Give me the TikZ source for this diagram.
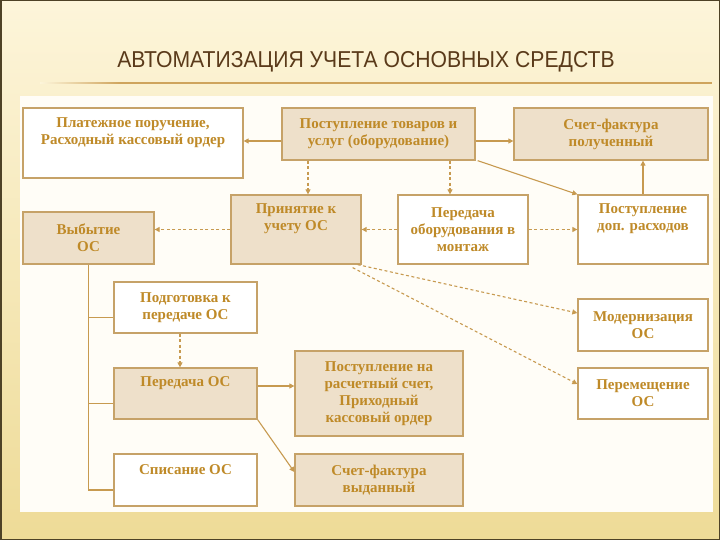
\documentclass[tikz,border=0pt]{standalone}
\usepackage{fontspec}
\setmainfont{Liberation Serif}
\newfontfamily\titlefont{Liberation Sans}
\usetikzlibrary{arrows.meta}

\definecolor{slidetop}{HTML}{FDF5DA}
\definecolor{slidebot}{HTML}{EEDB97}
\definecolor{framecol}{HTML}{4E4226}
\definecolor{rulecol}{HTML}{CFA45C}
\definecolor{titlecol}{HTML}{5A3A1A}
\definecolor{panelbg}{HTML}{FFFDF7}
\definecolor{boxline}{HTML}{C6A268}
\definecolor{boxfill}{HTML}{EEE0CA}
\definecolor{boxtext}{HTML}{BF8A28}
\definecolor{linecol}{HTML}{C79A50}

\begin{document}
\begin{tikzpicture}[x=1pt, y=-1pt,
    txt/.style={text=boxtext, font=\bfseries\fontsize{15}{17}\selectfont, align=center},
    box/.style={txt, draw=boxline, line width=1.3pt, inner sep=0pt},
    wbox/.style={box, fill=white},
    tbox/.style={box, fill=boxfill},
    sline/.style={draw=linecol, line width=1.1pt},
    arr/.style={sline, -{Triangle[length=5pt, width=5pt]}},
    darr/.style={arr, dash pattern=on 3pt off 2.5pt},
    title/.style={text=titlecol, font=\titlefont\fontsize{23}{23}\selectfont}]

  \useasboundingbox (0,0) rectangle (720,540);

  % slide
  \shade[top color=slidetop, bottom color=slidebot] (0,0) rectangle (720,540);
  \draw[framecol, line width=1.5pt] (0.75,0.75) rectangle (719.25,539.25);
  \node[title] (title) at (366,62) {\scalebox{0.92}[1]{АВТОМАТИЗАЦИЯ УЧЕТА ОСНОВНЫХ СРЕДСТВ}};
  \shade[left color=slidetop, right color=rulecol] (40,82.5) rectangle (120,84);
  \fill[rulecol] (120,82.5) rectangle (712,84);
  \fill[panelbg] (20,96) rectangle (713,512);

  % top row
  \node[wbox, minimum width=220pt, minimum height=70pt] (plat) at (133,143) {};
  \node[txt] (plat-t) at ([yshift=-25pt]plat.north) {Платежное поручение,\\Расходный кассовый ордер};
  \node[tbox, minimum width=193pt, minimum height=52pt] (tovar) at (378.5,134) {Поступление товаров и\\услуг (оборудование)};
  \node[tbox, minimum width=194pt, minimum height=52pt] (sfpol) at (611,134) {Счет-фактура\\полученный};

  % second row
  \node[tbox, minimum width=131pt, minimum height=52pt] (vyb) at (88.5,238) {Выбытие\\ОС};
  \node[tbox, minimum width=130pt, minimum height=69pt] (prin) at (296,229.5) {};
  \node[txt] (prin-t) at ([yshift=-24.5pt]prin.north) {Принятие к\\учету ОС};
  \node[wbox, minimum width=130pt, minimum height=69pt] (monta) at (463,229.5) {Передача\\оборудования в\\монтаж};
  \node[wbox, minimum width=130pt, minimum height=69pt] (dop) at (643,229.5) {};
  \node[txt] (dop-t) at ([yshift=-24.5pt]dop.north) {Поступление\\доп. расходов};

  % left column
  \node[wbox, minimum width=143pt, minimum height=51pt] (podg) at (185.5,307.5) {Подготовка к\\передаче ОС};
  \node[tbox, minimum width=143pt, minimum height=51pt] (pered) at (185.5,393.5) {};
  \node[txt] (pered-t) at ([yshift=-16pt]pered.north) {Передача ОС};
  \node[wbox, minimum width=143pt, minimum height=52pt] (spis) at (185.5,480) {};
  \node[txt] (spis-t) at ([yshift=-16pt]spis.north) {Списание ОС};

  % middle column
  \node[tbox, minimum width=168pt, minimum height=85pt] (rs) at (379,393.5) {Поступление на\\расчетный счет,\\Приходный\\кассовый ордер};
  \node[tbox, minimum width=168pt, minimum height=52pt] (sfvyd) at (379,480) {Счет-фактура\\выданный};

  % right column
  \node[wbox, minimum width=130pt, minimum height=52pt] (modern) at (643,325) {Модернизация\\ОС};
  \node[wbox, minimum width=130pt, minimum height=51pt] (perem) at (643,393.5) {Перемещение\\ОС};

  % solid arrows
  \draw[arr] ([yshift=-7pt]tovar.west) -- ([yshift=2pt]plat.east);
  \draw[arr] ([yshift=-7pt]tovar.east) -- ([yshift=-7pt]sfpol.west);
  \draw[arr] ([xshift=2pt]tovar.south east) -- (dop.north west);
  \draw[arr] (dop.north) -- (sfpol.south -| dop.north);
  \draw[arr] ([yshift=7.5pt]pered.east) -- ([yshift=7.5pt]rs.west);
  \draw[arr] (pered.south east) -- ([yshift=8pt]sfvyd.west);

  % dashed arrows
  \draw[darr] ([xshift=-70.5pt]tovar.south) -- ([xshift=12pt]prin.north);
  \draw[darr] ([xshift=71.5pt]tovar.south) -- ([xshift=-13pt]monta.north);
  \draw[darr] (monta.west) -- (prin.east);
  \draw[darr] (monta.east) -- (dop.west);
  \draw[darr] (prin.west) -- (prin.west -| vyb.east);
  \draw[darr] ([xshift=-4pt]prin.south east) -- ([yshift=12pt]modern.west);
  \draw[darr] ([xshift=-9pt, yshift=-3pt]prin.south east) -- ([yshift=9.5pt]perem.west);
  \draw[darr] ([xshift=-5.5pt]podg.south) -- ([xshift=-5.5pt]pered.north);

  % branches from Vybytie
  \foreach \b in {podg, pered, spis}
    \draw[sline] ([yshift=-10pt]\b.west) -| (vyb.south);
\end{tikzpicture}
\end{document}
